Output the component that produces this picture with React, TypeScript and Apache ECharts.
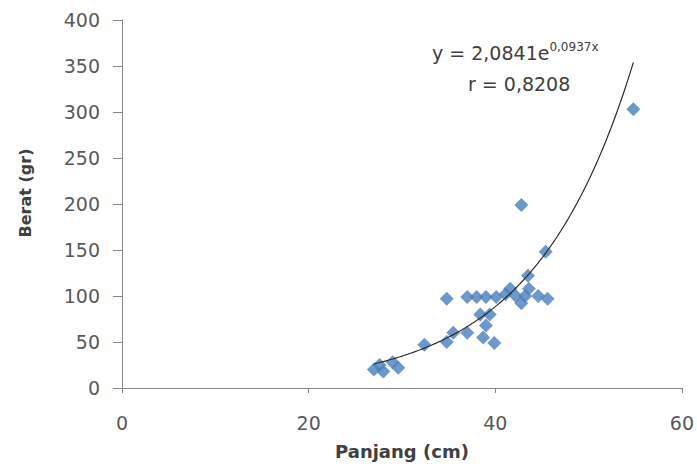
import React, { useEffect, useRef } from "react";
import * as echarts from "echarts";

// Observed data (Panjang cm, Berat gr)
const panjang = [27, 27.6, 28, 29, 29.6, 32.4, 34.8, 34.8, 35.5, 37, 37, 38, 38.4, 38.7, 39, 39, 39.4, 39.9, 40.1, 41.1, 41.6, 42.2, 42.8, 42.8, 43.2, 43.5, 43.6, 44.6, 45.4, 45.6, 54.8];
const berat = [20, 25, 18, 28, 22, 47, 97, 50, 60, 60, 99, 99, 80, 55, 99, 68, 80, 49, 99, 102, 108, 100, 92, 199, 100, 122, 108, 100, 148, 97, 303];

// Exponential trendline shown on the chart: y = 2,0841 e^(0,0937x)
const trendA = 2.0841;
const trendB = 0.0937;
const trendFrom = 27;
const trendTo = 54.8;

const xTicks = [0, 20, 40, 60];
const yTicks = [0, 50, 100, 150, 200, 250, 300, 350, 400];

const FONT = "DejaVu Sans";

export default function App() {
  const ref = useRef<HTMLDivElement>(null);
  useEffect(() => {
    if (!ref.current) return;
    const chart = echarts.init(ref.current, undefined, { renderer: "svg" });
    const pts = panjang.map((x, i) => [x, berat[i]]);
    const trend: number[][] = [];
    for (let x = trendFrom; x <= trendTo + 1e-9; x += 0.2) {
      trend.push([x, trendA * Math.exp(trendB * x)]);
    }
    chart.setOption({
      animation: false,
      backgroundColor: "#ffffff",
      grid: { left: 122, right: 15, top: 20, bottom: 80 },
      xAxis: {
        type: "value",
        min: xTicks[0],
        max: xTicks[xTicks.length - 1],
        interval: 20,
        name: "Panjang (cm)",
        nameLocation: "middle",
        nameGap: 63,
        nameTextStyle: { fontFamily: FONT, fontSize: 18, fontWeight: "bold", color: "#404040", verticalAlign: "middle" },
        axisLine: { show: true, lineStyle: { color: "#868686", width: 1 } },
        axisTick: { show: true, length: 5, lineStyle: { color: "#868686" } },
        axisLabel: { fontFamily: FONT, fontSize: 19, color: "#595959", margin: 25 },
        splitLine: { show: false },
      },
      yAxis: {
        type: "value",
        min: yTicks[0],
        max: yTicks[yTicks.length - 1],
        interval: 50,
        axisLine: { show: true, lineStyle: { color: "#868686", width: 1 } },
        axisTick: { show: true, length: 9, lineStyle: { color: "#868686" } },
        axisLabel: { fontFamily: FONT, fontSize: 19, color: "#595959", margin: 22 },
        splitLine: { show: false },
      },
      series: [
        {
          type: "scatter",
          data: pts,
          symbol: "diamond",
          symbolSize: 14,
          itemStyle: { color: "#4a7ebb" },
          z: 2,
        },
        {
          type: "line",
          data: trend,
          showSymbol: false,
          symbol: "none",
          lineStyle: { color: "#2b2b2b", width: 1.2 },
          z: 3,
        },
      ],
      graphic: [
        {
          type: "text",
          x: 25,
          y: 193,
          rotation: Math.PI / 2,
          style: {
            text: "Berat (gr)",
            fontFamily: FONT,
            fontSize: 16,
            fontWeight: "bold",
            fill: "#404040",
            align: "center",
            verticalAlign: "middle",
          },
        },
        {
          type: "text",
          left: 432,
          top: 41,
          style: {
            text: "{a|y = 2,0841e}{b|0,0937x}",
            rich: {
              a: { fontFamily: FONT, fontSize: 19, fill: "#404040", lineHeight: 24 },
              b: { fontFamily: FONT, fontSize: 12, fill: "#404040", verticalAlign: "top", lineHeight: 24, padding: [0, 0, 9, 0] },
            },
          },
        },
        {
          type: "text",
          left: 468,
          top: 74,
          style: { text: "r = 0,8208", fontFamily: FONT, fontSize: 19, fill: "#404040" },
        },
      ],
    });
    return () => chart.dispose();
  }, []);
  return <div ref={ref} style={{ width: 697, height: 468, position: "absolute", left: 0, top: 0 }} />;
}
